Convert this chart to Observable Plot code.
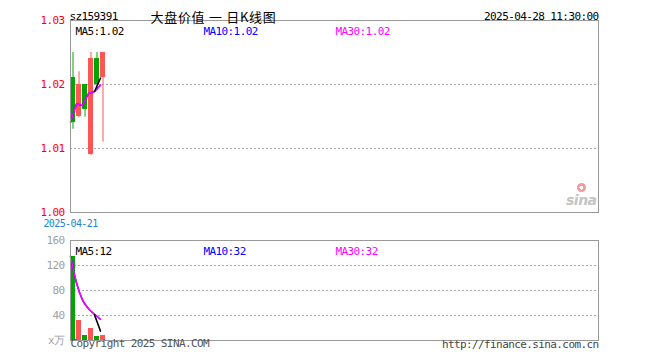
<!DOCTYPE html>
<html>
<head>
<meta charset="utf-8">
<script src="https://cdn.jsdelivr.net/npm/d3@7"></script>
<script src="https://cdn.jsdelivr.net/npm/@observablehq/plot@0.6"></script>
<style>
  html, body { margin: 0; padding: 0; background: #fff; }
  #chart { position: relative; width: 660px; height: 360px; overflow: hidden; background: #fff; }
  #chart svg { position: absolute; left: 0; }
  .logo-eye { position: absolute; left: 577px; top: 183px; width: 9px; height: 9px; border-radius: 50%;
              background: radial-gradient(circle, #fff 0 2px, #f29a9a 2px 4.5px, transparent 4.5px); }
  .logo-text { position: absolute; left: 566px; top: 193px; font: italic bold 14px "DejaVu Sans"; color: #c4c4c4; letter-spacing: -0.5px; line-height: 14px; }
</style>
</head>
<body>
<div id="chart"></div>
<script>
// ---- data ----
const code = "sz159391";
const title = "大盘价值 一 日K线图";
const stamp = "2025-04-28 11:30:00";
const dates = ["2025-04-21", "2025-04-22", "2025-04-23", "2025-04-24", "2025-04-25", "2025-04-28"];
const open  = [1.0211, 1.0150, 1.0200, 1.0091, 1.0241, 1.0211];
const high  = [1.0250, 1.0220, 1.0200, 1.0250, 1.0250, 1.0250];
const low   = [1.0130, 1.0148, 1.0149, 1.0089, 1.0194, 1.0110];
const close = [1.0141, 1.0200, 1.0161, 1.0241, 1.0200, 1.0250];
const volume = [135, 32.5, 8.5, 19.7, 6.4, 8.5];
const ma5  = [null, null, null, null, 1.0189, 1.0210];
const ma10 = [1.0141, 1.0170, 1.0167, 1.0186, 1.0189, 1.0199];
const ma30 = [1.0141, 1.0170, 1.0167, 1.0186, 1.0189, 1.0199];
const volMa5  = [null, null, null, null, 41, 15];
const volMa10 = [135, 92, 65, 51, 42, 34];
const volMa30 = [135, 92, 65, 51, 42, 34];
const priceTicks = [1.00, 1.01, 1.02, 1.03];
const priceGrid = [1.01, 1.02];
const volTicks = [0, 40, 80, 120, 160];
const volGrid = [40, 80, 120];
const priceMaLabels = ["MA5:1.02", "MA10:1.02", "MA30:1.02"];
const volMaLabels = ["MA5:12", "MA10:32", "MA30:32"];
const copyright = "Copyright 2025 SINA.COM";
const url = "http://finance.sina.com.cn";
const slots = 88;

// ---- styles ----
const RED = "#ff5555", GREEN = "#00a600";
const MA_COLORS = ["#000000", "#0000ff", "#ff00ff"];
const MONO = "'DejaVu Sans Mono', 'Liberation Mono', monospace";
const svgStyle = `font-family:${MONO};font-size:11px;letter-spacing:-0.6px;background:transparent;overflow:visible;`;

const rows = dates.map((d, i) => ({
  i, date: d, open: open[i], high: high[i], low: low[i], close: close[i],
  volume: volume[i], up: close[i] >= open[i],
  ma5: ma5[i], ma10: ma10[i], ma30: ma30[i],
  vma5: volMa5[i], vma10: volMa10[i], vma30: volMa30[i]
}));
const labelOffsets = [5, 133, 265];

function maLabelMarks(labels) {
  return labels.map((t, k) => Plot.text([t], {
    frameAnchor: "top-left", dx: labelOffsets[k], dy: 7, textAnchor: "start",
    fill: MA_COLORS[k], text: d => d
  }));
}

const chart = document.getElementById("chart");

// ---- price panel ----
const pricePlot = Plot.plot({
  width: 660, height: 230,
  marginLeft: 70, marginRight: 62, marginTop: 20, marginBottom: 18,
  x: {type: "linear", domain: [0, slots], axis: null},
  y: {domain: [1.00, 1.03], axis: null},
  style: svgStyle,
  marks: [
    Plot.gridY(priceGrid, {stroke: "#aaa", strokeOpacity: 1, strokeDasharray: "2,2"}),
    Plot.ruleX(rows, {x: d => d.i + 2.5 / 6, y1: "low", y2: "high", stroke: d => d.up ? RED : GREEN}),
    Plot.rectY(rows, {x1: d => d.i, x2: d => d.i + 5 / 6, y1: "open", y2: "close", fill: d => d.up ? RED : GREEN, shapeRendering: "crispEdges"}),
    Plot.line(rows, {x: "i", y: "ma10", stroke: MA_COLORS[1]}),
    Plot.line(rows, {x: "i", y: "ma30", stroke: MA_COLORS[2]}),
    Plot.line(rows, {x: "i", y: "ma5", stroke: MA_COLORS[0]}),
    Plot.frame({stroke: "#999"}),
    Plot.axisY(priceTicks, {tickFormat: d3.format(".2f"), tickSize: 0, tickPadding: 6, fill: "#ff0000", label: null}),
    Plot.axisX([0], {tickFormat: i => dates[i], tickSize: 0, tickPadding: 7, fontSize: 10, fill: "#1a86d0", label: null}),
    ...maLabelMarks(priceMaLabels),
    Plot.text([code], {frameAnchor: "top-left", dx: -1, dy: -8, textAnchor: "start", fill: "#000", text: d => d}),
    Plot.text([title], {frameAnchor: "top-left", dx: 80, dy: -8, textAnchor: "start", fill: "#000", fontSize: 13, fontFamily: "'Noto Sans CJK SC'", text: d => d}),
    Plot.text([stamp], {frameAnchor: "top-right", dy: -8, textAnchor: "end", fill: "#000", text: d => d})
  ],
  color: {type: "identity"}
});
pricePlot.style.top = "0px";
d3.select(pricePlot).selectAll("text")
  .filter(function () { return this.textContent === title; })
  .style("letter-spacing", "0.7px");
chart.appendChild(pricePlot);

// ---- volume panel ----
const volPlot = Plot.plot({
  width: 660, height: 140,
  marginLeft: 70, marginRight: 62, marginTop: 20, marginBottom: 20,
  x: {type: "linear", domain: [0, slots], axis: null},
  y: {domain: [0, 160], axis: null},
  style: svgStyle,
  marks: [
    Plot.gridY(volGrid, {stroke: "#aaa", strokeOpacity: 1, strokeDasharray: "2,2"}),
    Plot.rectY(rows, {x1: d => d.i, x2: d => d.i + 5 / 6, y1: 0, y2: "volume", fill: d => d.up ? RED : GREEN, shapeRendering: "crispEdges"}),
    Plot.line(rows, {x: "i", y: "vma10", stroke: MA_COLORS[1], curve: "monotone-x"}),
    Plot.line(rows, {x: "i", y: "vma30", stroke: MA_COLORS[2], curve: "monotone-x"}),
    Plot.line(rows, {x: "i", y: "vma5", stroke: MA_COLORS[0]}),
    Plot.frame({stroke: "#999"}),
    Plot.axisY(volTicks, {tickFormat: d => d === 0 ? "x万" : String(d), tickSize: 0, tickPadding: 6, fill: "#a0a0a0", label: null}),
    ...maLabelMarks(volMaLabels),
    Plot.text([copyright], {frameAnchor: "bottom-left", dx: 0, dy: 6, textAnchor: "start", fill: "#555", text: d => d}),
    Plot.text([url], {frameAnchor: "bottom-right", dx: 0, dy: 7, textAnchor: "end", fill: "#444", text: d => d})
  ],
  color: {type: "identity"}
});
volPlot.style.top = "220px";
chart.appendChild(volPlot);

// ---- watermark logo ----
const eye = document.createElement("div");
eye.className = "logo-eye";
const logo = document.createElement("div");
logo.className = "logo-text"; logo.textContent = "sina";
chart.appendChild(eye); chart.appendChild(logo);
</script>
</body>
</html>
